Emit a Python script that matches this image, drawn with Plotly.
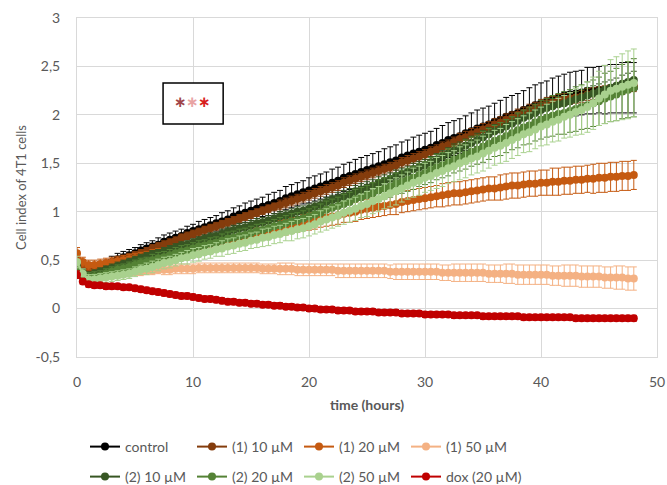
import plotly.graph_objects as go

# time axis: every 0.5 h from 0 to 48 (97 points)
time_h = [i * 0.5 for i in range(97)]

control = [
    0.45, 0.38, 0.37, 0.39, 0.42, 0.45, 0.48, 0.51, 0.53, 0.55,
    0.57, 0.60, 0.62, 0.64, 0.66, 0.69, 0.71, 0.73, 0.75, 0.78,
    0.80, 0.82, 0.84, 0.86, 0.88, 0.90, 0.92, 0.95, 0.97, 0.99,
    1.01, 1.03, 1.05, 1.07, 1.09, 1.11, 1.14, 1.16, 1.18, 1.20,
    1.22, 1.24, 1.26, 1.28, 1.30, 1.32, 1.35, 1.37, 1.39, 1.41,
    1.43, 1.45, 1.47, 1.49, 1.51, 1.53, 1.56, 1.58, 1.60, 1.62,
    1.64, 1.66, 1.69, 1.71, 1.74, 1.76, 1.78, 1.81, 1.83, 1.86,
    1.88, 1.90, 1.93, 1.95, 1.98, 2.00, 2.02, 2.05, 2.07, 2.10,
    2.12, 2.14, 2.16, 2.18, 2.20, 2.21, 2.22, 2.23, 2.25, 2.25,
    2.26, 2.26, 2.27, 2.27, 2.28, 2.28, 2.28]
control_err = [
    0.05, 0.05, 0.05, 0.05, 0.05, 0.05, 0.06, 0.06, 0.06, 0.06,
    0.06, 0.06, 0.06, 0.06, 0.07, 0.07, 0.07, 0.07, 0.07, 0.07,
    0.07, 0.08, 0.08, 0.08, 0.08, 0.09, 0.09, 0.09, 0.09, 0.10,
    0.10, 0.10, 0.10, 0.11, 0.11, 0.11, 0.12, 0.12, 0.12, 0.12,
    0.13, 0.13, 0.13, 0.13, 0.14, 0.14, 0.14, 0.14, 0.15, 0.15,
    0.15, 0.15, 0.15, 0.16, 0.16, 0.16, 0.16, 0.16, 0.17, 0.17,
    0.17, 0.17, 0.17, 0.18, 0.18, 0.18, 0.18, 0.18, 0.19, 0.19,
    0.19, 0.19, 0.19, 0.20, 0.20, 0.20, 0.20, 0.20, 0.21, 0.21,
    0.21, 0.21, 0.22, 0.22, 0.22, 0.23, 0.23, 0.23, 0.24, 0.24,
    0.24, 0.25, 0.25, 0.25, 0.26, 0.26, 0.26]

c1_10 = [
    0.50, 0.42, 0.39, 0.40, 0.42, 0.44, 0.46, 0.48, 0.51, 0.53,
    0.55, 0.57, 0.59, 0.62, 0.64, 0.66, 0.68, 0.70, 0.73, 0.75,
    0.77, 0.79, 0.81, 0.83, 0.85, 0.87, 0.89, 0.91, 0.93, 0.95,
    0.97, 0.99, 1.01, 1.03, 1.05, 1.07, 1.09, 1.11, 1.13, 1.15,
    1.17, 1.19, 1.21, 1.23, 1.25, 1.27, 1.30, 1.32, 1.34, 1.36,
    1.38, 1.40, 1.42, 1.44, 1.46, 1.48, 1.51, 1.53, 1.55, 1.57,
    1.59, 1.62, 1.64, 1.67, 1.69, 1.72, 1.75, 1.77, 1.80, 1.82,
    1.85, 1.87, 1.90, 1.92, 1.95, 1.97, 2.00, 2.02, 2.05, 2.07,
    2.10, 2.12, 2.13, 2.15, 2.16, 2.17, 2.18, 2.19, 2.21, 2.22,
    2.23, 2.24, 2.25, 2.26, 2.27, 2.29, 2.30]
c1_10_err = [
    0.04, 0.04, 0.04, 0.04, 0.04, 0.04, 0.04, 0.04, 0.04, 0.04,
    0.04, 0.04, 0.04, 0.04, 0.04, 0.04, 0.04, 0.04, 0.04, 0.04,
    0.04, 0.04, 0.04, 0.04, 0.04, 0.04, 0.04, 0.04, 0.04, 0.04,
    0.04, 0.04, 0.04, 0.04, 0.04, 0.05, 0.05, 0.05, 0.05, 0.05,
    0.05, 0.05, 0.05, 0.05, 0.05, 0.05, 0.05, 0.05, 0.05, 0.05,
    0.05, 0.05, 0.05, 0.05, 0.05, 0.05, 0.05, 0.05, 0.05, 0.05,
    0.05, 0.05, 0.05, 0.05, 0.05, 0.05, 0.06, 0.06, 0.06, 0.06,
    0.06, 0.06, 0.06, 0.06, 0.06, 0.06, 0.06, 0.06, 0.06, 0.06,
    0.06, 0.06, 0.06, 0.06, 0.06, 0.06, 0.06, 0.06, 0.06, 0.06,
    0.06, 0.06, 0.06, 0.06, 0.06, 0.06, 0.06]

c1_20 = [
    0.57, 0.48, 0.45, 0.45, 0.46, 0.47, 0.48, 0.49, 0.50, 0.51,
    0.52, 0.53, 0.54, 0.55, 0.56, 0.57, 0.58, 0.60, 0.61, 0.62,
    0.63, 0.64, 0.66, 0.67, 0.68, 0.70, 0.71, 0.72, 0.74, 0.75,
    0.76, 0.77, 0.79, 0.80, 0.82, 0.83, 0.84, 0.86, 0.87, 0.89,
    0.90, 0.91, 0.93, 0.94, 0.95, 0.96, 0.98, 0.99, 1.00, 1.02,
    1.03, 1.04, 1.05, 1.06, 1.07, 1.08, 1.10, 1.11, 1.12, 1.13,
    1.14, 1.15, 1.16, 1.17, 1.18, 1.19, 1.19, 1.20, 1.21, 1.22,
    1.23, 1.24, 1.24, 1.25, 1.26, 1.27, 1.27, 1.28, 1.29, 1.29,
    1.30, 1.30, 1.31, 1.31, 1.32, 1.32, 1.33, 1.33, 1.34, 1.34,
    1.35, 1.35, 1.36, 1.36, 1.37, 1.37, 1.38]
c1_20_err = [
    0.06, 0.05, 0.05, 0.05, 0.05, 0.05, 0.05, 0.05, 0.05, 0.05,
    0.05, 0.05, 0.05, 0.06, 0.06, 0.06, 0.06, 0.06, 0.06, 0.06,
    0.06, 0.06, 0.06, 0.06, 0.07, 0.07, 0.07, 0.07, 0.07, 0.07,
    0.07, 0.07, 0.08, 0.08, 0.08, 0.08, 0.08, 0.08, 0.08, 0.08,
    0.09, 0.09, 0.09, 0.09, 0.09, 0.09, 0.09, 0.10, 0.10, 0.10,
    0.10, 0.10, 0.10, 0.10, 0.10, 0.11, 0.11, 0.11, 0.11, 0.11,
    0.11, 0.11, 0.11, 0.12, 0.12, 0.12, 0.12, 0.12, 0.12, 0.12,
    0.12, 0.12, 0.12, 0.13, 0.13, 0.13, 0.13, 0.13, 0.13, 0.13,
    0.13, 0.13, 0.14, 0.14, 0.14, 0.14, 0.14, 0.14, 0.14, 0.15,
    0.15, 0.15, 0.15, 0.15, 0.15, 0.15, 0.15]

c1_50 = [
    0.42, 0.36, 0.33, 0.33, 0.34, 0.35, 0.35, 0.36, 0.37, 0.37,
    0.38, 0.38, 0.39, 0.39, 0.40, 0.40, 0.40, 0.41, 0.41, 0.41,
    0.41, 0.42, 0.42, 0.42, 0.42, 0.42, 0.42, 0.42, 0.42, 0.42,
    0.42, 0.42, 0.41, 0.41, 0.41, 0.41, 0.41, 0.41, 0.40, 0.40,
    0.40, 0.40, 0.40, 0.40, 0.40, 0.39, 0.39, 0.39, 0.39, 0.39,
    0.39, 0.39, 0.39, 0.39, 0.38, 0.38, 0.38, 0.38, 0.38, 0.38,
    0.38, 0.38, 0.38, 0.37, 0.37, 0.37, 0.37, 0.37, 0.37, 0.37,
    0.37, 0.36, 0.36, 0.36, 0.36, 0.36, 0.35, 0.35, 0.35, 0.35,
    0.35, 0.35, 0.34, 0.34, 0.34, 0.34, 0.34, 0.33, 0.33, 0.33,
    0.33, 0.32, 0.32, 0.32, 0.32, 0.31, 0.31]
c1_50_err = [
    0.05, 0.04, 0.04, 0.04, 0.04, 0.04, 0.04, 0.04, 0.04, 0.04,
    0.04, 0.04, 0.04, 0.04, 0.04, 0.05, 0.05, 0.05, 0.05, 0.05,
    0.05, 0.05, 0.05, 0.05, 0.05, 0.05, 0.05, 0.05, 0.05, 0.05,
    0.05, 0.05, 0.05, 0.05, 0.05, 0.06, 0.06, 0.06, 0.06, 0.06,
    0.06, 0.06, 0.06, 0.06, 0.06, 0.07, 0.07, 0.07, 0.07, 0.07,
    0.07, 0.07, 0.07, 0.07, 0.07, 0.08, 0.08, 0.08, 0.08, 0.08,
    0.08, 0.08, 0.08, 0.08, 0.08, 0.09, 0.09, 0.09, 0.09, 0.09,
    0.09, 0.09, 0.09, 0.09, 0.10, 0.10, 0.10, 0.10, 0.10, 0.10,
    0.10, 0.10, 0.10, 0.10, 0.11, 0.11, 0.11, 0.11, 0.11, 0.11,
    0.11, 0.11, 0.11, 0.12, 0.12, 0.12, 0.12]

c2_10 = [
    0.45, 0.37, 0.34, 0.36, 0.38, 0.40, 0.42, 0.44, 0.46, 0.48,
    0.50, 0.52, 0.54, 0.56, 0.57, 0.59, 0.61, 0.63, 0.65, 0.66,
    0.68, 0.70, 0.72, 0.74, 0.75, 0.77, 0.79, 0.81, 0.83, 0.84,
    0.86, 0.88, 0.89, 0.91, 0.93, 0.95, 0.96, 0.98, 1.00, 1.01,
    1.03, 1.05, 1.07, 1.10, 1.12, 1.14, 1.16, 1.18, 1.21, 1.23,
    1.25, 1.27, 1.30, 1.32, 1.34, 1.37, 1.39, 1.41, 1.44, 1.46,
    1.48, 1.51, 1.54, 1.57, 1.60, 1.63, 1.65, 1.68, 1.71, 1.74,
    1.77, 1.80, 1.83, 1.85, 1.88, 1.91, 1.94, 1.97, 1.99, 2.02,
    2.05, 2.07, 2.09, 2.11, 2.12, 2.14, 2.16, 2.18, 2.20, 2.22,
    2.24, 2.26, 2.28, 2.30, 2.32, 2.34, 2.36]
c2_10_err = [
    0.05, 0.04, 0.04, 0.04, 0.04, 0.04, 0.04, 0.04, 0.04, 0.04,
    0.04, 0.04, 0.04, 0.04, 0.04, 0.04, 0.04, 0.04, 0.04, 0.04,
    0.04, 0.04, 0.04, 0.04, 0.04, 0.05, 0.05, 0.05, 0.05, 0.05,
    0.05, 0.05, 0.05, 0.05, 0.05, 0.05, 0.05, 0.05, 0.05, 0.05,
    0.05, 0.05, 0.05, 0.05, 0.05, 0.06, 0.06, 0.06, 0.06, 0.06,
    0.06, 0.06, 0.06, 0.06, 0.06, 0.06, 0.06, 0.06, 0.06, 0.06,
    0.06, 0.06, 0.06, 0.06, 0.06, 0.07, 0.07, 0.07, 0.07, 0.07,
    0.07, 0.07, 0.07, 0.07, 0.07, 0.07, 0.07, 0.07, 0.07, 0.07,
    0.07, 0.07, 0.08, 0.08, 0.08, 0.08, 0.08, 0.08, 0.08, 0.08,
    0.08, 0.08, 0.08, 0.08, 0.09, 0.09, 0.09]

c2_20 = [
    0.42, 0.35, 0.32, 0.33, 0.34, 0.36, 0.38, 0.40, 0.41, 0.43,
    0.45, 0.47, 0.48, 0.50, 0.52, 0.53, 0.55, 0.57, 0.59, 0.60,
    0.62, 0.64, 0.65, 0.67, 0.68, 0.70, 0.72, 0.73, 0.75, 0.76,
    0.78, 0.80, 0.81, 0.83, 0.85, 0.86, 0.88, 0.90, 0.91, 0.93,
    0.95, 0.97, 0.99, 1.02, 1.04, 1.06, 1.08, 1.10, 1.13, 1.15,
    1.17, 1.19, 1.22, 1.24, 1.26, 1.29, 1.31, 1.33, 1.35, 1.38,
    1.40, 1.43, 1.46, 1.48, 1.51, 1.54, 1.56, 1.59, 1.62, 1.64,
    1.67, 1.70, 1.73, 1.75, 1.78, 1.81, 1.84, 1.87, 1.89, 1.92,
    1.95, 1.97, 1.99, 2.01, 2.02, 2.04, 2.06, 2.08, 2.10, 2.12,
    2.14, 2.17, 2.19, 2.21, 2.24, 2.26, 2.28]
c2_20_err = [
    0.05, 0.05, 0.05, 0.05, 0.05, 0.05, 0.05, 0.05, 0.05, 0.05,
    0.05, 0.05, 0.05, 0.06, 0.06, 0.06, 0.06, 0.06, 0.06, 0.06,
    0.06, 0.06, 0.06, 0.06, 0.06, 0.07, 0.07, 0.07, 0.07, 0.07,
    0.07, 0.07, 0.07, 0.07, 0.07, 0.08, 0.08, 0.08, 0.08, 0.08,
    0.08, 0.08, 0.09, 0.09, 0.09, 0.09, 0.10, 0.10, 0.10, 0.10,
    0.10, 0.11, 0.11, 0.11, 0.11, 0.11, 0.12, 0.12, 0.12, 0.12,
    0.12, 0.13, 0.13, 0.13, 0.14, 0.14, 0.14, 0.15, 0.15, 0.15,
    0.16, 0.16, 0.16, 0.17, 0.17, 0.17, 0.18, 0.18, 0.19, 0.19,
    0.20, 0.20, 0.21, 0.21, 0.22, 0.22, 0.23, 0.23, 0.24, 0.24,
    0.25, 0.26, 0.26, 0.27, 0.28, 0.29, 0.30]

c2_50 = [
    0.48, 0.36, 0.30, 0.30, 0.31, 0.32, 0.33, 0.34, 0.35, 0.36,
    0.38, 0.40, 0.41, 0.43, 0.45, 0.47, 0.48, 0.50, 0.52, 0.53,
    0.55, 0.56, 0.58, 0.59, 0.61, 0.62, 0.64, 0.65, 0.67, 0.68,
    0.70, 0.71, 0.73, 0.74, 0.76, 0.77, 0.79, 0.80, 0.82, 0.83,
    0.85, 0.87, 0.90, 0.92, 0.94, 0.96, 0.99, 1.01, 1.03, 1.06,
    1.08, 1.11, 1.13, 1.16, 1.19, 1.21, 1.24, 1.27, 1.30, 1.32,
    1.35, 1.37, 1.40, 1.42, 1.45, 1.47, 1.50, 1.52, 1.55, 1.57,
    1.60, 1.63, 1.66, 1.68, 1.71, 1.74, 1.77, 1.80, 1.82, 1.85,
    1.88, 1.90, 1.93, 1.95, 1.98, 2.00, 2.03, 2.05, 2.08, 2.12,
    2.17, 2.21, 2.25, 2.27, 2.29, 2.31, 2.33]
c2_50_err = [
    0.06, 0.05, 0.05, 0.05, 0.05, 0.05, 0.05, 0.05, 0.05, 0.05,
    0.05, 0.05, 0.06, 0.06, 0.06, 0.06, 0.06, 0.06, 0.06, 0.07,
    0.07, 0.07, 0.07, 0.07, 0.07, 0.08, 0.08, 0.08, 0.08, 0.08,
    0.08, 0.08, 0.09, 0.09, 0.09, 0.09, 0.09, 0.10, 0.10, 0.10,
    0.10, 0.10, 0.11, 0.11, 0.11, 0.11, 0.12, 0.12, 0.12, 0.12,
    0.13, 0.13, 0.13, 0.13, 0.14, 0.14, 0.14, 0.14, 0.15, 0.15,
    0.15, 0.15, 0.16, 0.16, 0.16, 0.16, 0.17, 0.17, 0.17, 0.17,
    0.18, 0.18, 0.18, 0.18, 0.19, 0.19, 0.19, 0.19, 0.20, 0.20,
    0.20, 0.21, 0.21, 0.22, 0.22, 0.23, 0.24, 0.25, 0.26, 0.27,
    0.28, 0.30, 0.32, 0.33, 0.34, 0.35, 0.35]

dox = [
    0.35, 0.28, 0.25, 0.24, 0.24, 0.23, 0.23, 0.23, 0.22, 0.22,
    0.21, 0.20, 0.19, 0.18, 0.17, 0.16, 0.15, 0.14, 0.13, 0.13,
    0.12, 0.11, 0.10, 0.10, 0.09, 0.08, 0.07, 0.07, 0.06, 0.06,
    0.05, 0.05, 0.04, 0.04, 0.03, 0.03, 0.02, 0.02, 0.01, 0.01,
    0.00, 0.00, -0.01, -0.01, -0.01, -0.02, -0.02, -0.02, -0.03, -0.03,
    -0.03, -0.03, -0.04, -0.04, -0.04, -0.04, -0.05, -0.05, -0.05, -0.05,
    -0.06, -0.06, -0.06, -0.06, -0.06, -0.07, -0.07, -0.07, -0.07, -0.07,
    -0.08, -0.08, -0.08, -0.08, -0.08, -0.08, -0.08, -0.09, -0.09, -0.09,
    -0.09, -0.09, -0.09, -0.09, -0.09, -0.09, -0.10, -0.10, -0.10, -0.10,
    -0.10, -0.10, -0.10, -0.10, -0.10, -0.10, -0.10]
dox_err = [
    0.04, 0.03, 0.03, 0.03, 0.03, 0.03, 0.03, 0.03, 0.03, 0.03,
    0.03, 0.03, 0.03, 0.03, 0.03, 0.03, 0.03, 0.03, 0.03, 0.03,
    0.03, 0.03, 0.03, 0.03, 0.03, 0.03, 0.03, 0.03, 0.03, 0.03,
    0.03, 0.03, 0.03, 0.03, 0.03, 0.03, 0.03, 0.03, 0.03, 0.03,
    0.03, 0.03, 0.03, 0.03, 0.03, 0.03, 0.03, 0.03, 0.03, 0.03,
    0.03, 0.03, 0.03, 0.03, 0.03, 0.03, 0.03, 0.03, 0.03, 0.03,
    0.03, 0.03, 0.03, 0.03, 0.03, 0.03, 0.03, 0.03, 0.03, 0.03,
    0.03, 0.03, 0.03, 0.03, 0.03, 0.03, 0.03, 0.03, 0.03, 0.03,
    0.03, 0.03, 0.03, 0.03, 0.03, 0.03, 0.03, 0.03, 0.03, 0.03,
    0.03, 0.03, 0.03, 0.03, 0.03, 0.03, 0.03]

series_names = ["control", "(1) 10 µM", "(1) 20 µM", "(1) 50 µM",
                "(2) 10 µM", "(2) 20 µM", "(2) 50 µM", "dox (20 µM)"]
series_values = [control, c1_10, c1_20, c1_50, c2_10, c2_20, c2_50, dox]
series_errors = [control_err, c1_10_err, c1_20_err, c1_50_err,
                 c2_10_err, c2_20_err, c2_50_err, dox_err]
series_colors = ["#000000", "#843C0C", "#C55A11", "#F4B183",
                 "#375623", "#548235", "#A9D18E", "#C00000"]
series_legend = ["legend", "legend", "legend", "legend",
                 "legend2", "legend2", "legend2", "legend2"]

x_ticks = [0, 10, 20, 30, 40, 50]
y_ticks = [-0.5, 0, 0.5, 1, 1.5, 2, 2.5, 3]
y_tick_labels = ["-0,5", "0", "0,5", "1", "1,5", "2", "2,5", "3"]

# significance marker colours (one asterisk per compound)
star_colors = ["#A0454A", "#E8A3A3", "#D81E1E"]
star_x = [8.9, 9.95, 11.0]

for v, e in zip(series_values, series_errors):
    assert len(v) == len(time_h) and len(e) == len(time_h)

FONT = "Lato, 'Open Sans', sans-serif"
GREY = "#595959"
GRID = "#D9D9D9"

fig = go.Figure()
for name, vals, errs, col, lg in zip(series_names, series_values, series_errors,
                                     series_colors, series_legend):
    fig.add_trace(go.Scatter(
        x=time_h, y=vals, name=name, mode="lines+markers",
        line=dict(color=col, width=2),
        marker=dict(color=col, size=8, line=dict(width=0)),
        error_y=dict(type="data", array=errs, visible=True, color=col,
                     thickness=1, width=3),
        legend=lg,
    ))

# invisible spacer entries so the last legend label of each row is not clipped
for lg in ["legend", "legend2"]:
    fig.add_trace(go.Scatter(
        x=[None], y=[None], name=" ", mode="markers",
        marker=dict(color="rgba(0,0,0,0)", size=1),
        legend=lg, hoverinfo="skip",
    ))

# significance box
fig.add_shape(type="rect", xref="x", yref="y", x0=7.42, x1=12.6, y0=1.906, y1=2.329,
              line=dict(color="#000000", width=1.5), fillcolor="#FFFFFF", layer="above")
for sx, sc in zip(star_x, star_colors):
    fig.add_annotation(
        x=sx, y=2.13, xref="x", yref="y", showarrow=False,
        text="<b>\u2217</b>", font=dict(family="DejaVu Sans", size=15, color=sc),
    )

legend_common = dict(orientation="h", xref="container", yref="container",
                     xanchor="left", yanchor="middle", entrywidth=62,
                     font=dict(family=FONT, size=14, color=GREY),
                     bgcolor="rgba(0,0,0,0)", itemwidth=30)

fig.update_layout(
    width=667, height=485,
    margin=dict(l=77, r=10, t=18, b=128),
    paper_bgcolor="#FFFFFF", plot_bgcolor="#FFFFFF",
    font=dict(family=FONT, size=13, color=GREY),
    showlegend=True,
    legend=dict(x=85 / 667, y=(485 - 447) / 485, **legend_common),
    legend2=dict(x=85 / 667, y=(485 - 477) / 485, **legend_common),
    xaxis=dict(range=[0, 50], tickvals=x_ticks, showgrid=True, gridcolor=GRID,
               gridwidth=1, zeroline=False, automargin=False,
               ticks="outside", ticklen=12, tickcolor="rgba(0,0,0,0)",
               tickfont=dict(family=FONT, size=14, color=GREY),
               title=dict(text="<b>time (hours)</b>", standoff=11,
                          font=dict(family=FONT, size=14, color=GREY))),
    yaxis=dict(range=[-0.5, 3], tickvals=y_ticks, ticktext=y_tick_labels,
               showgrid=True, gridcolor=GRID, gridwidth=1,
               zeroline=True, zerolinecolor=GRID, zerolinewidth=1,
               automargin=False,
               ticks="outside", ticklen=13, tickcolor="rgba(0,0,0,0)",
               tickfont=dict(family=FONT, size=14, color=GREY),
               title=dict(text="Cell index of 4T1 cells", standoff=6,
                          font=dict(family=FONT, size=13, color=GREY))),
)
fig.update_xaxes(showline=True, linecolor=GRID, linewidth=1, mirror=True)
fig.update_yaxes(showline=True, linecolor=GRID, linewidth=1, mirror=True)

fig.write_html("out.html", config={"displayModeBar": False},
               post_script="document.body.style.margin='0';document.body.style.padding='0';")
